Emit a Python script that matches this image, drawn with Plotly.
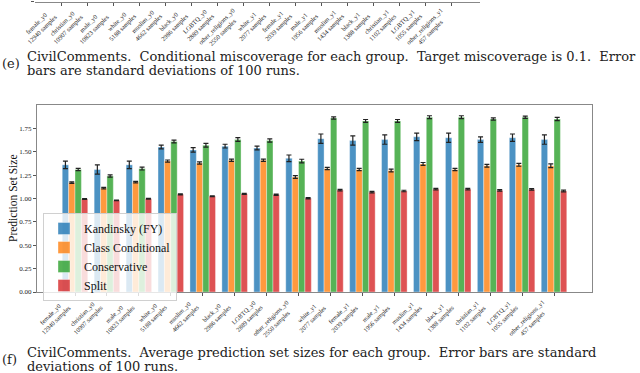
import plotly.graph_objects as go

groups = ["female_y0", "christian_y0", "male_y0", "white_y0", "muslim_y0", "black_y0",
          "LGBTQ_y0", "other_religions_y0", "white_y1", "female_y1", "male_y1",
          "muslim_y1", "black_y1", "christian_y1", "LGBTQ_y1", "other_religions_y1"]
samples = [12940, 10907, 10823, 5188, 4662, 2986, 2889, 2550, 2077, 2039, 1956,
           1434, 1388, 1102, 1055, 457]

kandinsky = [1.36, 1.31, 1.36, 1.55, 1.52, 1.56, 1.54, 1.43, 1.64, 1.62, 1.63, 1.66, 1.65, 1.63, 1.65, 1.63]
kandinsky_err = [0.04, 0.05, 0.04, 0.02, 0.025, 0.02, 0.02, 0.035, 0.05, 0.05, 0.05, 0.04, 0.05, 0.03, 0.04, 0.05]
class_cond = [1.17, 1.11, 1.175, 1.40, 1.38, 1.41, 1.41, 1.23, 1.32, 1.31, 1.30, 1.37, 1.31, 1.35, 1.36, 1.35]
class_cond_err = [0.008, 0.008, 0.008, 0.012, 0.012, 0.012, 0.012, 0.015, 0.012, 0.012, 0.015, 0.015, 0.012, 0.015, 0.015, 0.02]
conservative = [1.31, 1.24, 1.32, 1.61, 1.57, 1.63, 1.62, 1.40, 1.86, 1.83, 1.83, 1.87, 1.87, 1.85, 1.87, 1.85]
conservative_err = [0.012, 0.012, 0.015, 0.015, 0.02, 0.02, 0.018, 0.02, 0.012, 0.015, 0.015, 0.015, 0.015, 0.012, 0.012, 0.018]
split = [0.995, 0.98, 0.998, 1.045, 1.025, 1.05, 1.04, 1.003, 1.09, 1.068, 1.08, 1.10, 1.10, 1.086, 1.097, 1.08]
split_err = [0.004, 0.004, 0.004, 0.006, 0.004, 0.006, 0.006, 0.006, 0.008, 0.008, 0.008, 0.008, 0.008, 0.008, 0.008, 0.01]

series_names = ["Kandinsky (FY)", "Class Conditional", "Conservative", "Split"]
series_vals = [kandinsky, class_cond, conservative, split]
series_errs = [kandinsky_err, class_cond_err, conservative_err, split_err]
colors = ["rgba(31,119,180,0.8)", "rgba(255,127,14,0.8)", "rgba(44,160,44,0.8)", "rgba(214,39,40,0.8)"]

ytick_vals = [0, 0.25, 0.5, 0.75, 1.0, 1.25, 1.5, 1.75]
ytick_text = ["%.2f" % v for v in ytick_vals]

caption_e = ["CivilComments.  Conditional miscoverage for each group.  Target miscoverage is 0.1.  Error",
             "bars are standard deviations of 100 runs."]
caption_f = ["CivilComments.  Average prediction set sizes for each group.  Error bars are standard",
             "deviations of 100 runs."]

W, H = 640, 373
ML, MR, MT, MB = 35, 48, 1, 81
PW, PH = W - ML - MR, H - MT - MB


def px(x):
    return (x - ML) / PW


def py(y):
    return (H - MB - y) / PH


xs = list(range(len(groups)))
ticktext = ["%s<br>%d samples" % (g, s) for g, s in zip(groups, samples)]

fig = go.Figure()
for name, vals, errs, col in zip(series_names, series_vals, series_errs, colors):
    fig.add_trace(go.Bar(
        x=xs, y=vals, name=name,
        marker=dict(color=col, line=dict(color="rgba(255,255,255,0.45)", width=0.8)),
        error_y=dict(type="data", array=errs, visible=True, color="#222", thickness=1.2, width=2.5),
    ))

# partial top chart (previous panel) axis
fig.add_trace(go.Scatter(x=[], y=[], xaxis="x2", yaxis="y2", showlegend=False))

serif = "Liberation Serif, Times New Roman, serif"
cm = "DejaVu Serif, serif"

fig.update_layout(
    width=W, height=H,
    margin=dict(l=ML, r=MR, t=MT, b=MB),
    paper_bgcolor="white", plot_bgcolor="white",
    barmode="group", bargap=0.2, bargroupgap=0,
    font=dict(family=serif, color="#222"),
    showlegend=True,
    legend=dict(x=px(43), y=py(213), xanchor="left", yanchor="top",
                bgcolor="rgba(255,255,255,0.8)", bordercolor="#d0d0d0", borderwidth=1,
                font=dict(family=serif, size=12, color="#111"), tracegroupgap=0,
                itemwidth=30),
    xaxis=dict(domain=[px(37), 1.0], range=[-1.19, 16.19], tickvals=xs, showticklabels=False,
               showline=True, linecolor="#888", linewidth=1, mirror=True,
               ticks="outside", ticklen=3, tickcolor="#555", showgrid=False, zeroline=False,
               anchor="y"),
    yaxis=dict(domain=[0, py(105)], range=[0, 2.0], tickvals=ytick_vals, ticktext=ytick_text,
               tickfont=dict(size=7, family=serif, color="#222"),
               showline=True, linecolor="#888", linewidth=1, mirror=True,
               ticks="outside", ticklen=3, tickcolor="#555", showgrid=False, zeroline=False,
               anchor="x"),
    xaxis2=dict(domain=[0, px(480)], range=[-1.03, 16.09], tickvals=xs, showticklabels=False,
                showline=True, linecolor="#888", linewidth=1,
                ticks="outside", ticklen=3, tickcolor="#555", showgrid=False, zeroline=False,
                anchor="y2"),
    yaxis2=dict(domain=[0.997, 1.0], range=[0, 1], tickvals=[0], ticktext=["0.0"],
                tickfont=dict(size=7, family=serif, color="#222"),
                showline=False, ticks="outside", ticklen=3, tickcolor="#555",
                showgrid=False, zeroline=False, anchor="x2"),
)

ann = []
# rotated category labels (main chart and cropped top chart)
for i, t in zip(xs, ticktext):
    ann.append(dict(text=t, x=i, xref="x", y=py(295), yref="paper", textangle=-45,
                    xanchor="right", yanchor="top", align="center", showarrow=False,
                    font=dict(family=serif, size=6.3, color="#222")))
    ann.append(dict(text=t, x=i, xref="x2", y=py(4), yref="paper", textangle=-45,
                    xanchor="right", yanchor="top", align="center", showarrow=False,
                    font=dict(family=serif, size=6.4, color="#222")))

ann.append(dict(text="Prediction Set Size", x=px(13), y=py(198), xref="paper", yref="paper",
                textangle=-90, showarrow=False, font=dict(family=serif, size=11.5, color="#111"),
                xanchor="center", yanchor="middle"))
cap_font = dict(family=cm, size=13, color="#222")
ann.append(dict(text="(e)", x=px(0), y=py(63.5), xref="paper", yref="paper", showarrow=False,
                xanchor="left", yanchor="middle", font=cap_font))
ann.append(dict(text=caption_e[0], x=px(25), y=py(56.5), xref="paper", yref="paper", showarrow=False,
                xanchor="left", yanchor="middle", font=cap_font))
ann.append(dict(text=caption_e[1], x=px(25), y=py(70.5), xref="paper", yref="paper", showarrow=False,
                xanchor="left", yanchor="middle", font=cap_font))
ann.append(dict(text="(f)", x=px(0), y=py(359), xref="paper", yref="paper", showarrow=False,
                xanchor="left", yanchor="middle", font=cap_font))
ann.append(dict(text=caption_f[0], x=px(25), y=py(352), xref="paper", yref="paper", showarrow=False,
                xanchor="left", yanchor="middle", font=cap_font))
ann.append(dict(text=caption_f[1], x=px(25), y=py(366), xref="paper", yref="paper", showarrow=False,
                xanchor="left", yanchor="middle", font=cap_font))
fig.update_layout(annotations=ann)

fig.write_html("out.html", config={"displayModeBar": False},
               post_script="document.body.style.margin='0';")
